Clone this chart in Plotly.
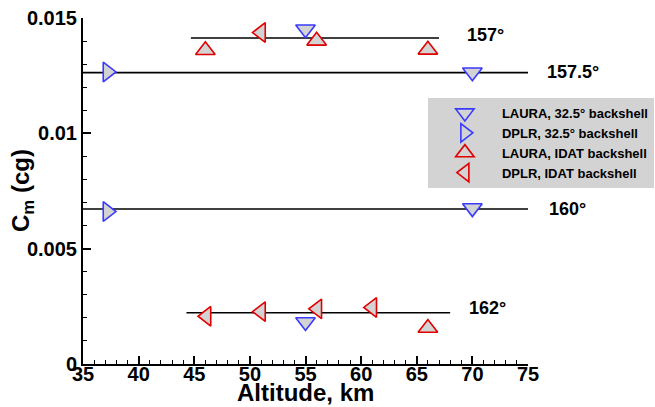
import plotly.graph_objects as go

# ---- data ----
laura_325_x = [55, 70, 70, 55]
laura_325_y = [0.01451, 0.01265, 0.00676, 0.00182]
dplr_325_x = [37.2, 37.2]
dplr_325_y = [0.01266, 0.00661]
laura_idat_x = [46, 56, 66, 66]
laura_idat_y = [0.01360, 0.01401, 0.01362, 0.00156]
dplr_idat_x = [51, 46.1, 51, 56.06, 61]
dplr_idat_y = [0.01437, 0.00207, 0.00227, 0.00239, 0.00245]

ref_labels = ["157°", "157.5°", "160°", "162°"]
ref_x0 = [44.7, 35, 35, 44.3]
ref_x1 = [67.0, 75, 75, 68.0]
ref_y = [0.01413, 0.01263, 0.00672, 0.00222]
label_px = [0.858, 1.038, 1.043, 0.863]
label_py = [0.951, 0.8425, 0.448, 0.162]

y_tickvals = [0, 0.005, 0.01, 0.015]
y_ticktext = ["0", "0.005", "0.01", "0.015"]
x_tickvals = [35, 40, 45, 50, 55, 60, 65, 70, 75]

x_title = "Altitude, km"
y_title = "C<sub>m</sub> (cg)"

FONT = "Liberation Sans, Arial, Helvetica, sans-serif"
BLUE = "#3a3aff"
RED = "#e00000"
FILL = "#d3d3d3"

fig = go.Figure()

for x0, x1, y in zip(ref_x0, ref_x1, ref_y):
    fig.add_trace(go.Scatter(x=[x0, x1], y=[y, y], mode="lines",
                             line=dict(color="black", width=1.6),
                             showlegend=False, hoverinfo="skip"))

series = [
    ("LAURA, 32.5° backshell", laura_325_x, laura_325_y, "triangle-down", BLUE),
    ("DPLR, 32.5° backshell", dplr_325_x, dplr_325_y, "triangle-right", BLUE),
    ("LAURA, IDAT backshell", laura_idat_x, laura_idat_y, "triangle-up", RED),
    ("DPLR, IDAT backshell", dplr_idat_x, dplr_idat_y, "triangle-left", RED),
]
for name, xs, ys, sym, col in series:
    fig.add_trace(go.Scatter(x=xs, y=ys, mode="markers", name=name,
                             marker=dict(symbol=sym, size=17, color=FILL,
                                         line=dict(color=col, width=1.6)),
                             cliponaxis=False))

for txt, px, py in zip(ref_labels, label_px, label_py):
    fig.add_annotation(x=px, y=py, xref="paper", yref="paper", text=txt,
                       showarrow=False, xanchor="left", yanchor="middle",
                       font=dict(family=FONT, size=18, color="black", weight="bold"))

# axis titles
fig.add_annotation(x=0.5, y=-0.081, xref="paper", yref="paper", text=x_title,
                   showarrow=False, xanchor="center", yanchor="middle",
                   font=dict(family=FONT, size=24, color="black", weight="bold"))
fig.add_annotation(x=-0.137, y=0.5, xref="paper", yref="paper", text=y_title,
                   showarrow=False, xanchor="center", yanchor="middle", textangle=-90,
                   font=dict(family=FONT, size=24, color="black", weight="bold"))

axis_common = dict(showgrid=False, zeroline=False, showline=True, linecolor="black",
                   linewidth=2, ticks="inside", ticklen=8, tickwidth=1.5, tickcolor="black",
                   automargin=False,
                   tickfont=dict(family=FONT, size=20, color="black", weight="bold"))

fig.update_xaxes(range=[35, 75], tickvals=x_tickvals, ticklabelstandoff=-9,
                 minor=dict(dtick=1, ticks="inside", ticklen=4, tickwidth=1.2, tickcolor="black"),
                 **axis_common)
fig.update_yaxes(range=[0, 0.015], tickvals=y_tickvals, ticktext=y_ticktext,
                 minor=dict(dtick=0.001, ticks="inside", ticklen=4, tickwidth=1.2, tickcolor="black"),
                 **axis_common)

fig.update_layout(
    width=655, height=407,
    margin=dict(l=83, r=127, t=18, b=43, autoexpand=False),
    plot_bgcolor="white", paper_bgcolor="white",
    legend=dict(x=0.775, y=0.769, xanchor="left", yanchor="top",
                bgcolor=FILL, borderwidth=0,
                font=dict(family=FONT, size=13, color="black", weight="bold"),
                tracegroupgap=0, itemwidth=64),
)

fig.write_html("out.html")
